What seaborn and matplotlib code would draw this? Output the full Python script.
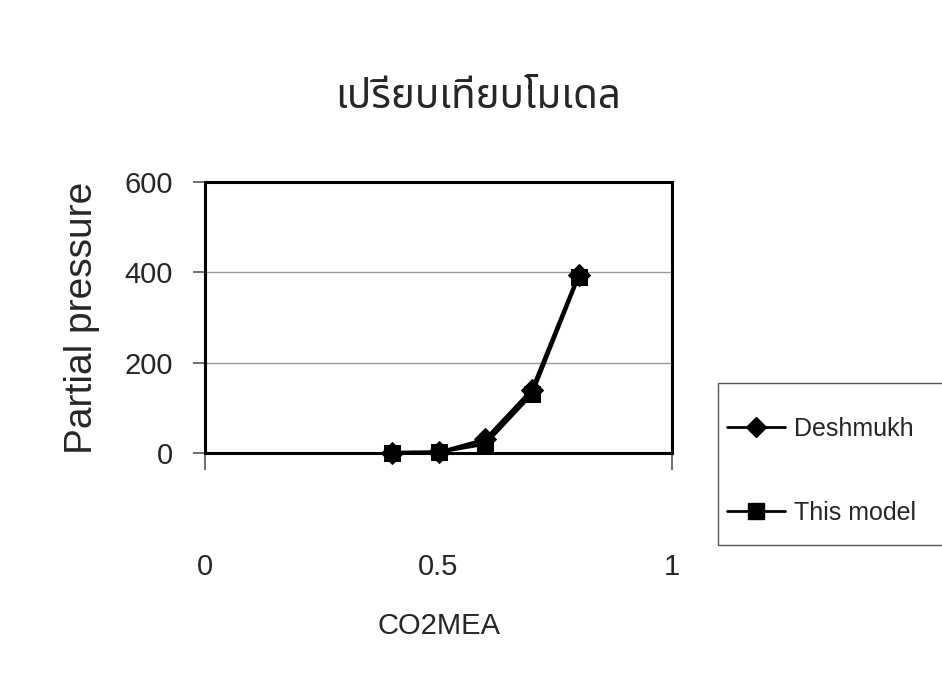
import matplotlib
matplotlib.use('Agg')
import matplotlib.pyplot as plt
from matplotlib import font_manager
from matplotlib.ft2font import FT2Font
from matplotlib.lines import Line2D
from matplotlib.patches import Rectangle
import pandas as pd
import seaborn as sns

# Chart data
x_vals = [0.4, 0.5, 0.6, 0.7, 0.8]
deshmukh = [0.5, 1.5, 30, 140, 395]
this_model = [1, 2, 20, 130, 390]
series_names = ['Deshmukh', 'This model']
x_ticks = [0, 1]
x_tick_labels = ['0', '1']
y_ticks = [0, 200, 400, 600]
title = 'เปรียบเทียบโมเดล'


def find_font(char, preferred=()):
    # pick an installed font that has a glyph for char
    found = []
    for f in font_manager.fontManager.ttflist:
        try:
            if ord(char) in FT2Font(f.fname).get_charmap():
                found.append(f.name)
        except Exception:
            pass
    for p in preferred:
        if p in found:
            return p
    return found[0] if found else 'DejaVu Sans'


thai_font = find_font('เ', preferred=('Noto Sans Thai', 'Loma', 'Garuda', 'Norasi'))

sns.set_theme(style='white')
plt.rcParams['font.family'] = ['Liberation Sans', 'DejaVu Sans']

df = pd.DataFrame({
    'x': x_vals * 2,
    'y': deshmukh + this_model,
    'series': [series_names[0]] * len(x_vals) + [series_names[1]] * len(x_vals),
})

fig = plt.figure(figsize=(9.42, 6.86), dpi=100)
ax = fig.add_axes([205 / 942, 1 - 453 / 686, 467 / 942, 271 / 686])

sns.lineplot(data=df, x='x', y='y', hue='series', style='series',
             markers={'Deshmukh': 'D', 'This model': 's'}, dashes=False,
             palette=['black', 'black'], linewidth=2.5, markersize=11,
             markeredgecolor='black', ax=ax, legend=False, clip_on=False)

ax.set_xlim(0, 1)
ax.set_ylim(0, 600)
ax.set_yticks(y_ticks)
ax.set_yticklabels([str(v) for v in y_ticks], fontsize=21)
ax.set_xticks(x_ticks)
ax.set_xticklabels(x_tick_labels, fontsize=21)
ax.set_xticks([0.5], labels=['0.5'], minor=True)
for lab in ax.get_xticklabels(minor=True):
    lab.set_fontsize(21)
ax.tick_params(axis='x', which='major', direction='inout', length=24, width=1.2,
               color='#555555', pad=60, bottom=True)
ax.tick_params(axis='x', which='minor', length=0, pad=72, bottom=True)
ax.tick_params(axis='y', direction='out', length=9, width=1.2, color='#555555',
               pad=14, left=True)

for s in ax.spines.values():
    s.set_color('black')
    s.set_linewidth(2.2)
ax.yaxis.grid(True, color='#999999', linewidth=1)
ax.set_axisbelow(True)

ax.set_xlabel('CO2MEA', fontsize=21, labelpad=22)
ax.set_ylabel('Partial pressure', fontsize=28, labelpad=18)

fig.text(478 / 942, 1 - 98 / 686, title, fontsize=29, family=[thai_font, 'DejaVu Sans'],
         ha='center', va='center')

# legend built from the same series styles, frame drawn separately
handles = [
    Line2D([], [], color='black', marker='D', markersize=10, linewidth=2),
    Line2D([], [], color='black', marker='s', markersize=11, linewidth=2),
]
fig.legend(handles, series_names, loc='upper left', bbox_to_anchor=(727 / 942, 1 - 417 / 686),
           frameon=False, fontsize=18, handlelength=2.3, labelspacing=2.4,
           borderpad=0, borderaxespad=0, handletextpad=0.4)
fig.patches.append(Rectangle((718 / 942, 1 - 545 / 686), 240 / 942, 162 / 686,
                             transform=fig.transFigure, fill=False,
                             edgecolor='#555555', linewidth=1))

fig.savefig('out.png', dpi=100)
